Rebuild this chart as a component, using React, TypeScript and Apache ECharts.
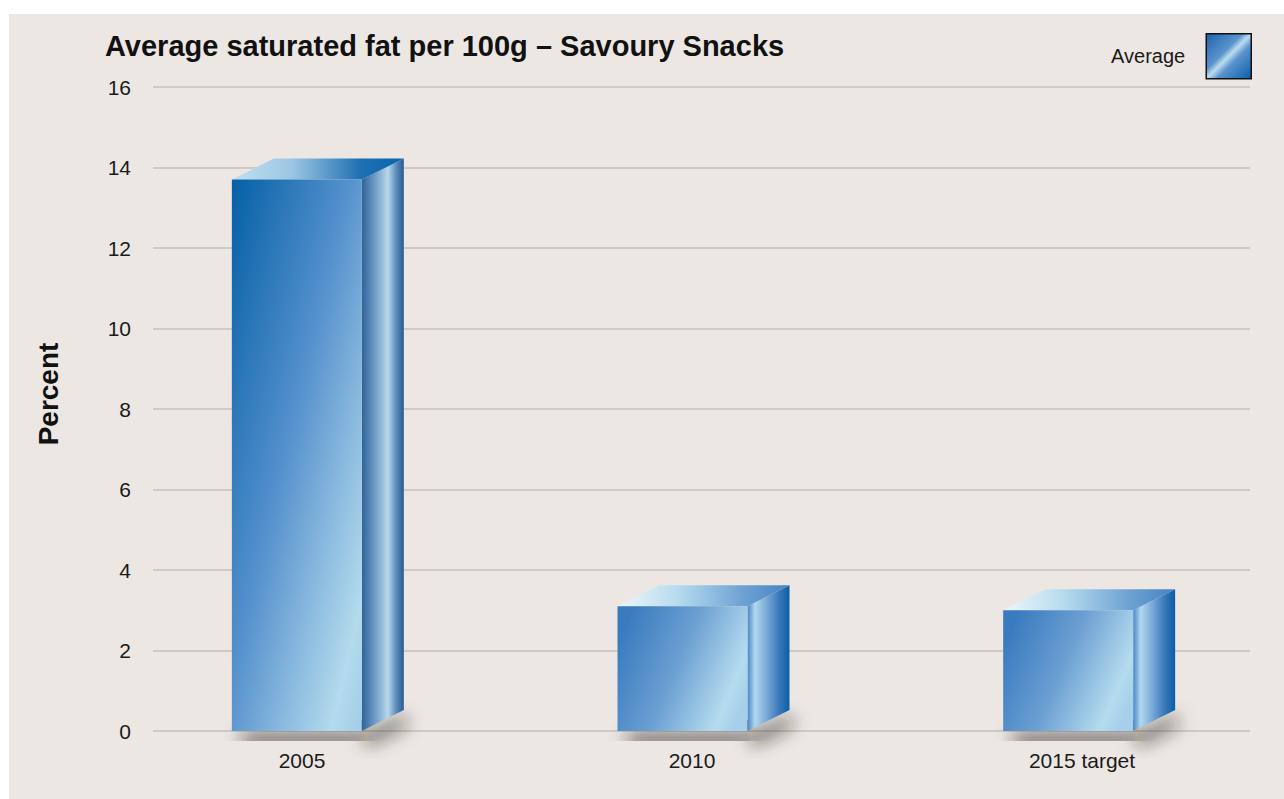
import React, { useEffect, useRef } from "react";
import * as echarts from "echarts";

const categories = ["2005", "2010", "2015 target"];
const averageValues = [13.7, 3.1, 3.0];
const yMin = 0;
const yMax = 16;
const yInterval = 2;
const titleText = "Average saturated fat per 100g \u2013 Savoury Snacks";
const seriesName = "Average";
const yAxisTitle = "Percent";

const FONT = "'Liberation Sans', Arial, sans-serif";

function lin(x: number, y: number, x2: number, y2: number, stops: [number, string][]) {
  return new echarts.graphic.LinearGradient(
    x, y, x2, y2,
    stops.map(([offset, color]) => ({ offset, color }))
  );
}

export default function App() {
  const ref = useRef<HTMLDivElement>(null);

  useEffect(() => {
    if (!ref.current) return;
    const chart = echarts.init(ref.current, undefined, { renderer: "svg" });

    const frontFill = (tall: boolean) =>
      tall
        ? lin(0, 0, 1, 1, [
            [0, "#0560a6"],
            [0.45, "#5490cc"],
            [0.88, "#b3daed"],
            [1, "#a2cde8"],
          ])
        : lin(0, 0.3, 1, 0.7, [
            [0, "#3a7bbf"],
            [0.45, "#6b9fd2"],
            [0.88, "#b5dbee"],
            [1, "#a6d0ea"],
          ]);
    const topFill = (tall: boolean) =>
      tall
        ? lin(0, 0, 1, 0, [
            [0, "#bfe1f1"],
            [0.35, "#9cc6e4"],
            [0.75, "#1f6fb2"],
            [1, "#0a66aa"],
          ])
        : lin(0, 0, 1, 0, [
            [0, "#eef7fb"],
            [0.35, "#b6dbee"],
            [0.75, "#6a9fd2"],
            [1, "#4683c2"],
          ]);
    const sideFill = (tall: boolean) =>
      tall
        ? lin(0, 0, 1, 0, [
            [0, "#2f6398"],
            [0.3, "#6d99c4"],
            [0.62, "#b6d8ea"],
            [0.82, "#5d8cba"],
            [1, "#2a5a8c"],
          ])
        : lin(0, 0, 1, 0, [
            [0, "#4a86c6"],
            [0.18, "#b2d8ee"],
            [0.45, "#7aaad8"],
            [0.75, "#3a78ba"],
            [1, "#0a5ea6"],
          ]);

    const legendFill = lin(0, 0, 1, 1, [
      [0, "#1a63ae"],
      [0.4, "#5b93cd"],
      [0.5, "#b9dcef"],
      [0.62, "#5a92cc"],
      [1, "#0a5ea6"],
    ]);

    const renderItem = (params: any, api: any) => {
      const idx = api.value(0);
      const val = api.value(1);
      const top = api.coord([idx, val]);
      const base = api.coord([idx, 0]);
      const band = api.size([1, 0])[0];
      const w = band * 0.337;
      const dx = 42;
      const dy = 21;
      const x0 = top[0] - w / 2;
      const x1 = top[0] + w / 2;
      const yT = top[1];
      const yB = base[1];
      const tall = yB - yT > 2 * w;
      const shadowStyle = {
        fill: "#3a3430",
        shadowBlur: 18,
        shadowOffsetX: 6,
        shadowOffsetY: 14,
        shadowColor: "rgba(35,26,20,0.9)",
      };
      return {
        type: "group",
        children: [
          {
            type: "rect",
            shape: { x: x0 + 4, y: yB - 10, width: w - 6, height: 10 },
            style: shadowStyle,
          },
          {
            type: "polygon",
            shape: {
              points: [
                [x1 - 2, yB - 10],
                [x1 + dx - 4, yB - dy - 7],
                [x1 + dx - 4, yB - dy + 1],
                [x1 - 2, yB],
              ],
            },
            style: shadowStyle,
          },
          {
            type: "polygon",
            shape: {
              points: [
                [x1, yT],
                [x1 + dx, yT - dy],
                [x1 + dx, yB - dy],
                [x1, yB],
              ],
            },
            style: { fill: sideFill(tall) },
          },
          {
            type: "polygon",
            shape: {
              points: [
                [x0, yT],
                [x0 + dx, yT - dy],
                [x1 + dx, yT - dy],
                [x1, yT],
              ],
            },
            style: { fill: topFill(tall) },
          },
          {
            type: "rect",
            shape: { x: x0, y: yT, width: w, height: yB - yT },
            style: { fill: frontFill(tall) },
          },
        ],
      };
    };

    const gridTop = 87;
    const gridBottom = 68;

    chart.setOption({
      animation: false,
      backgroundColor: "transparent",
      title: {
        text: titleText,
        left: 100,
        top: 26,
        textStyle: {
          fontFamily: FONT,
          fontSize: 29,
          fontWeight: "bold",
          color: "#111111",
        },
      },
      legend: {
        data: [
          {
            name: seriesName,
            icon: "rect",
            itemStyle: { color: legendFill, borderColor: "#111111", borderWidth: 1.5 },
          },
        ],
        right: 27,
        top: 28,
        itemWidth: 45,
        itemHeight: 45,
        align: "right",
        selectedMode: false,
        textStyle: {
          fontFamily: FONT,
          fontSize: 20,
          color: "#1a1a1a",
          padding: [0, 16, 7, 0],
        },
      },
      grid: [
        { left: 153, right: 34, top: gridTop, bottom: gridBottom },
        { left: 104, right: 23, top: gridTop, bottom: gridBottom },
        { left: 107, right: 7, top: gridTop, bottom: gridBottom },
      ],
      xAxis: [
        { gridIndex: 0, type: "category", data: categories, show: false },
        { gridIndex: 1, type: "category", data: categories, show: false },
        {
          gridIndex: 2,
          type: "category",
          data: categories,
          axisLine: { show: false },
          axisTick: { show: false },
          axisLabel: {
            margin: 19,
            fontFamily: FONT,
            fontSize: 21,
            color: "#1a1a1a",
          },
        },
      ],
      yAxis: [
        {
          gridIndex: 0,
          type: "value",
          min: yMin,
          max: yMax,
          interval: yInterval,
          axisLine: { show: false },
          axisTick: { show: false },
          axisLabel: {
            margin: 22,
            fontFamily: FONT,
            fontSize: 21,
            color: "#1a1a1a",
          },
          splitLine: { lineStyle: { color: "#c4c0bc", width: 1.5 } },
        },
        { gridIndex: 1, type: "value", min: yMin, max: yMax, show: false, splitLine: { show: false } },
        { gridIndex: 2, type: "value", min: yMin, max: yMax, show: false, splitLine: { show: false } },
      ],
      graphic: [
        {
          type: "text",
          x: 48,
          y: 394,
          rotation: Math.PI / 2,
          style: {
            text: yAxisTitle,
            align: "center",
            verticalAlign: "middle",
            font: `bold 28px ${FONT}`,
            fill: "#111111",
          },
        },
      ],
      series: [
        {
          name: seriesName,
          type: "custom",
          xAxisIndex: 1,
          yAxisIndex: 1,
          renderItem,
          itemStyle: { color: "#3f7fc2" },
          encode: { x: 0, y: 1 },
          data: averageValues.map((v, i) => [i, v]),
          z: 5,
        },
      ],
    });

    return () => chart.dispose();
  }, []);

  return (
    <div style={{ position: "absolute", left: 0, top: 0, width: 1284, height: 799, background: "#ffffff" }}>
      <div style={{ position: "absolute", left: 9, top: 14, right: 0, bottom: 0, background: "#ece7e3" }} />
      <div ref={ref} style={{ position: "absolute", left: 0, top: 0, width: 1284, height: 799 }} />
    </div>
  );
}
